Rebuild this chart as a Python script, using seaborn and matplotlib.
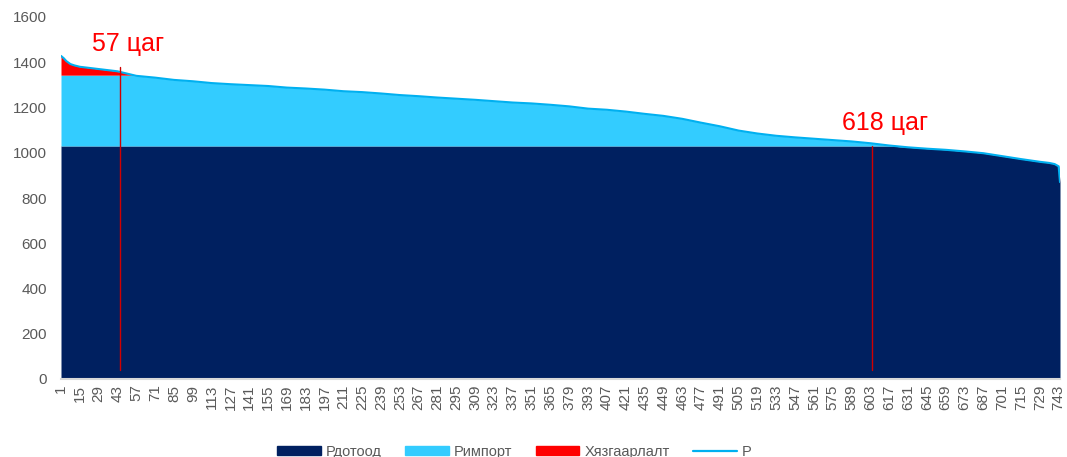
import matplotlib
matplotlib.use('Agg')

import numpy as np
import matplotlib.pyplot as plt
import seaborn as sns
from matplotlib.patches import Patch
from matplotlib.lines import Line2D

# Load duration curve (hour rank -> total demand P, MW)
hours = [1, 3, 5, 8, 11, 15, 22, 29, 36, 43, 50, 57, 71, 85, 99, 113, 127,
         141, 155, 169, 183, 197, 211, 225, 239, 253, 267, 281, 295, 309,
         323, 337, 351, 365, 379, 393, 407, 421, 435, 449, 463, 477, 491,
         505, 519, 533, 547, 561, 575, 589, 603, 617, 631, 645, 659, 673,
         687, 701, 715, 729, 736, 740, 743, 744]
p_total = [1428, 1418, 1405, 1392, 1386, 1380, 1375, 1370, 1365, 1360, 1350,
           1340, 1332, 1322, 1316, 1308, 1303, 1299, 1295, 1288, 1284, 1279,
           1272, 1268, 1262, 1255, 1250, 1244, 1239, 1234, 1228, 1222, 1218,
           1212, 1205, 1195, 1190, 1182, 1172, 1163, 1150, 1133, 1117, 1098,
           1085, 1075, 1068, 1062, 1056, 1050, 1042, 1032, 1024, 1018, 1013,
           1006, 998, 985, 972, 960, 955, 950, 940, 870]

domestic_cap = 1030   # Рдотоод
import_cap = 1343     # Рдотоод + Римпорт

tick_hours = list(range(1, 744, 14))
yticks = [0, 200, 400, 600, 800, 1000, 1200, 1400, 1600]

marker_hours = [45, 604]
marker_tops = [1380, 1030]
labels = ['57 цаг', '618 цаг']
label_pos = [(24, 1481), (582, 1131)]

navy = '#002060'
light = '#33CCFF'
red = '#FF0000'
line_col = '#00B0F0'
grey = '#595959'

sns.set_theme(style='white')
plt.rcParams['font.family'] = ['Liberation Sans', 'DejaVu Sans']

x = np.array(hours)
p = np.array(p_total, dtype=float)
dom = np.minimum(p, domestic_cap)
imp_top = np.minimum(p, import_cap)

fig = plt.figure(figsize=(10.67, 4.57), dpi=100)
ax = fig.add_axes([61 / 1067, 1 - 379 / 457, 999 / 1067, 362 / 457])

ax.fill_between(x, 0, dom, color=navy, linewidth=0)
ax.fill_between(x, dom, imp_top, color=light, linewidth=0)
ax.fill_between(x, import_cap, p, where=p > import_cap, interpolate=True,
                color=red, linewidth=0)
sns.lineplot(x=x, y=p, ax=ax, color=line_col, linewidth=1.5)

for h, top in zip(marker_hours, marker_tops):
    ax.plot([h, h], [40, top], color='#D00000', linewidth=1)
for txt, (tx, ty) in zip(labels, label_pos):
    ax.text(tx, ty, txt, color=red, fontsize=18, va='center', ha='left')

ax.set_xlim(1, 744)
ax.set_ylim(0, 1600)
ax.set_xticks(tick_hours)
ax.set_xticklabels([str(h) for h in tick_hours], rotation=90)
ax.set_yticks(yticks)
ax.tick_params(axis='both', length=0, colors=grey, labelsize=11)
ax.tick_params(axis='y', pad=10)
ax.tick_params(axis='x', pad=4)
for side in ['left', 'right', 'top']:
    ax.spines[side].set_visible(False)
ax.spines['bottom'].set_color('#D9D9D9')
ax.spines['bottom'].set_linewidth(1.5)

handles = [Patch(color=navy), Patch(color=light), Patch(color=red),
           Line2D([0], [0], color=line_col, linewidth=1.6)]
names = ['Рдотоод', 'Римпорт', 'Хязгаарлалт', 'P']
leg = fig.legend(handles, names, loc='center', bbox_to_anchor=(0.482, 1 - 452 / 457),
                 ncol=4, frameon=False, fontsize=10.5, handlelength=3.0,
                 handleheight=0.55, handletextpad=0.35, columnspacing=1.6)
for t in leg.get_texts():
    t.set_color(grey)

fig.savefig('out.png', dpi=100)
plt.close(fig)
